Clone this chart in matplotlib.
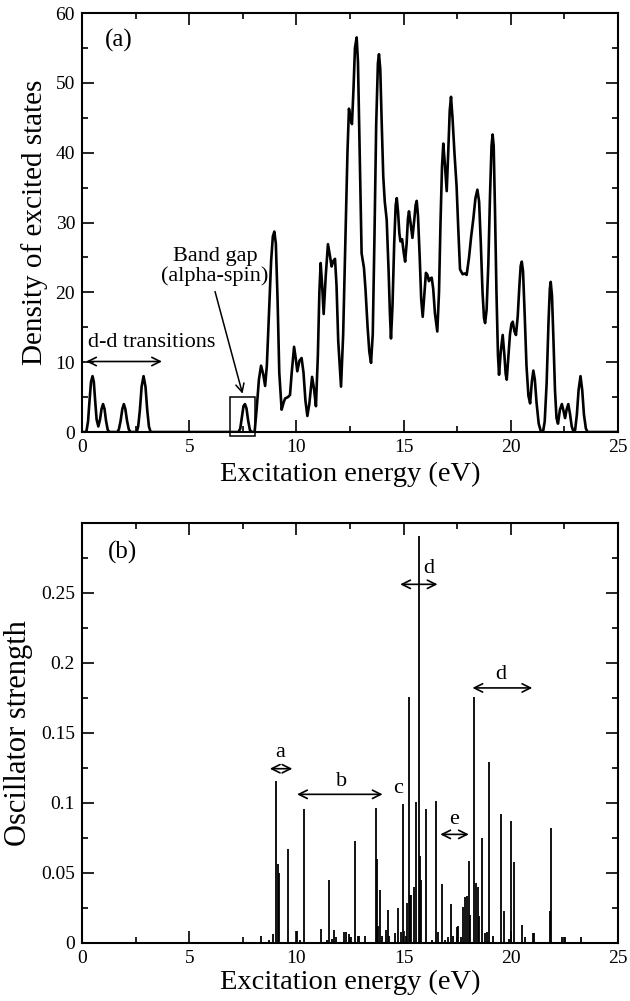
import matplotlib
matplotlib.use("Agg")
import matplotlib.pyplot as plt
from matplotlib.patches import Rectangle
from matplotlib.ticker import MultipleLocator

plt.rcParams['font.family'] = ['Liberation Serif', 'DejaVu Serif']
plt.rcParams['mathtext.fontset'] = 'stix'

# ---------------- data: panel (a) density of excited states -----------------
dos_energy = [0.0, 0.2, 0.28, 0.35, 0.42, 0.49, 0.55, 0.61, 0.68, 0.76, 0.84, 0.91, 0.98, 1.05,
              1.12, 1.20, 1.28, 1.65, 1.72, 1.80, 1.88, 1.95, 2.02, 2.10, 2.18, 2.26, 2.55, 2.62,
              2.70, 2.78, 2.87, 2.96, 3.04, 3.12, 3.20, 7.30, 7.38, 7.46, 7.53, 7.60, 7.67, 7.75,
              7.83, 7.92, 8.05, 8.15, 8.25, 8.35, 8.45, 8.54, 8.62, 8.72, 8.82, 8.90, 8.97, 9.04,
              9.12, 9.20, 9.31, 9.40, 9.47, 9.60, 9.70, 9.78, 9.89, 9.97, 10.04, 10.14, 10.24,
              10.33, 10.42, 10.51, 10.60, 10.73, 10.82, 10.91, 11.00, 11.07, 11.13, 11.20, 11.27,
              11.37, 11.47, 11.56, 11.64, 11.72, 11.80, 11.87, 11.95, 12.08, 12.18, 12.28, 12.38,
              12.45, 12.52, 12.59, 12.66, 12.73, 12.81, 12.87, 12.94, 13.04, 13.15, 13.22, 13.32,
              13.40, 13.48, 13.56, 13.64, 13.72, 13.80, 13.85, 13.91, 13.98, 14.05, 14.12, 14.21,
              14.30, 14.36, 14.41, 14.48, 14.56, 14.63, 14.68, 14.74, 14.80, 14.85, 14.93, 15.00,
              15.07, 15.14, 15.20, 15.25, 15.32, 15.41, 15.50, 15.56, 15.61, 15.67, 15.75, 15.82,
              15.89, 15.96, 16.04, 16.11, 16.18, 16.25, 16.31, 16.38, 16.46, 16.57, 16.65, 16.72,
              16.79, 16.85, 16.92, 17.01, 17.08, 17.15, 17.21, 17.28, 17.37, 17.47, 17.55, 17.63,
              17.75, 17.85, 17.94, 18.05, 18.15, 18.25, 18.35, 18.44, 18.52, 18.60, 18.68, 18.75,
              18.80, 18.87, 18.95, 19.03, 19.10, 19.15, 19.20, 19.26, 19.33, 19.40, 19.45, 19.53,
              19.62, 19.70, 19.76, 19.81, 19.88, 19.96, 20.03, 20.09, 20.17, 20.24, 20.32, 20.40,
              20.46, 20.51, 20.57, 20.65, 20.73, 20.82, 20.90, 20.98, 21.05, 21.12, 21.20, 21.30,
              21.40, 21.50, 21.58, 21.67, 21.76, 21.82, 21.86, 21.92, 21.99, 22.06, 22.13, 22.20,
              22.29, 22.38, 22.46, 22.53, 22.60, 22.68, 22.76, 22.84, 22.92, 23.00, 23.08, 23.16,
              23.25, 23.33, 23.41, 23.50, 23.58, 25.0]
dos_value = [0, 0, 1.5, 4.5, 7.2, 8.0, 7.2, 4.6, 1.8, 0.8, 1.8, 3.3, 4.0, 3.3,
             1.6, 0.3, 0, 0, 0.4, 1.6, 3.3, 4.0, 3.3, 1.6, 0.4, 0, 0, 0.8,
             3.2, 6.5, 8.0, 6.5, 3.2, 0.8, 0, 0, 0.5, 2.2, 3.7, 4.0, 3.4, 1.6,
             0.3, 0, 0, 3.5, 7.5, 9.5, 8.3, 6.6, 9.5, 17, 24.5, 28.0, 28.7, 27,
             19, 8.5, 3.2, 4.2, 4.8, 5.0, 5.3, 8.5, 12.2, 10.5, 8.7, 10.2, 10.6,
             8.5, 4.5, 2.3, 4.0, 7.9, 6.2, 3.7, 11, 20, 24.2, 21, 16.9,
             22.5, 26.9, 25.3, 23.7, 24.5, 24.8, 21, 13, 6.5, 14, 27, 40,
             46.3, 45, 44.1, 49, 55, 56.5, 53, 42, 25.6, 23.5, 20.5, 15,
             11.5, 9.9, 14, 28, 44, 52.8, 54.1, 52, 44, 36.6, 33, 30.4,
             23, 17, 13.4, 18, 27, 32.5, 33.5, 31.5, 28.5, 27.3, 27.6, 25.8,
             24.4, 27, 30.5, 31.6, 30, 27.8, 30.5, 32.5, 33.1, 31, 25, 19,
             16.5, 19.5, 22.8, 22.5, 21.6, 22.0, 22.1, 20.5, 17, 14.4, 20, 30,
             38, 41.3, 38.5, 34.5, 40, 46, 48.0, 45, 40, 35.2, 29, 23.3,
             22.6, 22.7, 22.5, 25, 28, 30.5, 33.5, 34.7, 33, 27, 20, 16.3,
             15.6, 17.5, 24, 34, 41, 42.6, 41, 32, 20, 11, 8.2, 11.5,
             13.9, 11, 8.3, 7.5, 10.5, 14, 15.5, 15.8, 14.4, 13.9, 16.5, 21,
             23.8, 24.4, 23, 16.5, 9.5, 5.2, 4.1, 7.2, 8.8, 7.5, 4.2, 1.2,
             0.1, 0, 1.5, 7, 16, 20.5, 21.5, 19.5, 13, 6, 2, 1.2,
             3.2, 4.0, 3.0, 2.0, 3.2, 4.0, 2.6, 0.8, 0.1, 0.3, 2.5, 6,
             8.0, 6, 2.5, 0.5, 0, 0]

# ---------------- data: panel (b) oscillator strengths -----------------------
stick_energy = [8.35, 8.71, 8.92, 9.05, 9.13, 9.18, 9.63, 10.04, 10.17, 10.34, 11.13, 11.43,
                11.52, 11.66, 11.76, 11.86, 12.22, 12.31, 12.44, 12.55, 12.73, 12.86, 12.93,
                13.20, 13.69, 13.74, 13.79, 13.92, 14.00, 14.20, 14.28, 14.33, 14.61, 14.75,
                14.86, 14.99, 15.12, 15.18, 15.25, 15.31, 15.36, 15.48, 15.57, 15.72, 15.77,
                15.83, 16.05, 16.32, 16.52, 16.60, 16.79, 16.95, 17.05, 17.22, 17.29, 17.48,
                17.53, 17.66, 17.76, 17.85, 17.95, 18.06, 18.11, 18.30, 18.38, 18.45, 18.51,
                18.66, 18.79, 18.88, 18.99, 19.18, 19.54, 19.69, 19.91, 20.00, 20.13, 20.51,
                20.68, 21.03, 21.07, 21.84, 21.88, 22.37, 22.53, 23.26]
stick_strength = [0.0045, 0.002, 0.006, 0.1155, 0.056, 0.050, 0.067, 0.0085, 0.002, 0.0957,
                  0.0095, 0.002, 0.045, 0.003, 0.0088, 0.004, 0.0077, 0.0075, 0.006, 0.004,
                  0.0726, 0.005, 0.005, 0.005, 0.096, 0.060, 0.012, 0.0376, 0.005, 0.009,
                  0.0233, 0.005, 0.007, 0.025, 0.008, 0.0993, 0.005, 0.0286, 0.1757, 0.034,
                  0.034, 0.040, 0.1005, 0.2905, 0.062, 0.045, 0.0957, 0.002, 0.101, 0.008,
                  0.042, 0.002, 0.004, 0.0279, 0.005, 0.0113, 0.012, 0.004, 0.0255, 0.0326,
                  0.0333, 0.0583, 0.020, 0.1757, 0.0429, 0.040, 0.019, 0.075, 0.007, 0.0076,
                  0.129, 0.005, 0.0917, 0.023, 0.003, 0.0869, 0.0576, 0.0124, 0.004, 0.007,
                  0.007, 0.023, 0.0817, 0.004, 0.004, 0.0043]

x_ticks = [0, 5, 10, 15, 20, 25]
top_yticks = [0, 10, 20, 30, 40, 50, 60]
bot_yticks = [0, 0.05, 0.1, 0.15, 0.2, 0.25]
bot_yticklabels = ['0', '0.05', '0.1', '0.15', '0.2', '0.25']

# ---------------- figure ---------------------------------------------------
fig = plt.figure(figsize=(6.30, 10.01), dpi=100)
ax1 = fig.add_axes([0.1302, 0.5684, 0.8508, 0.4186])
ax2 = fig.add_axes([0.1302, 0.0582, 0.8508, 0.4196])

TICK_FS = 14
for ax in (ax1, ax2):
    for sp in ax.spines.values():
        sp.set_linewidth(1.5)
    ax.tick_params(which='both', direction='in', top=True, right=True,
                   labelsize=TICK_FS, width=1.2)
    ax.tick_params(which='major', length=8.5, pad=5)
    ax.tick_params(which='minor', length=4.5)
    ax.set_xlim(0, 25)
    ax.set_xticks(x_ticks)
    ax.xaxis.set_minor_locator(MultipleLocator(2.5))

# panel (a)
ax1.plot(dos_energy, dos_value, color='black', lw=1.9, solid_joinstyle='round')
ax1.set_ylim(0, 60)
ax1.set_yticks(top_yticks)
ax1.yaxis.set_minor_locator(MultipleLocator(5))
ax1.set_xlabel('Excitation energy (eV)', fontsize=20.5, labelpad=4)
ax1.set_ylabel('Density of excited states', fontsize=21)
ax1.yaxis.set_label_coords(-0.064, 0.50)
ax1.text(1.71, 56.1, '(a)', fontsize=18, ha='center', va='center')
ax1.text(3.26, 12.8, 'd-d transitions', fontsize=16, ha='center', va='center')
ax1.annotate('', xy=(0.06, 10.1), xytext=(3.86, 10.1),
             arrowprops=dict(arrowstyle='<->,head_length=0.6,head_width=0.3', lw=1.2, color='black'))
ax1.text(6.21, 23.7, 'Band gap\n(alpha-spin)', fontsize=16, ha='center', va='center',
         linespacing=1.05)
ax1.annotate('', xy=(7.52, 5.1), xytext=(6.17, 20.5),
             arrowprops=dict(arrowstyle='->,head_length=0.6,head_width=0.3', lw=1.1, color='black'))
ax1.add_patch(Rectangle((6.9, -0.6), 1.17, 5.6, fill=False, lw=1.1, ec='black', clip_on=False))

# panel (b)
ax2.vlines(stick_energy, 0, stick_strength, color='black', lw=1.3)
ax2.set_ylim(0, 0.30)
ax2.set_yticks(bot_yticks)
ax2.set_yticklabels(bot_yticklabels)
ax2.yaxis.set_minor_locator(MultipleLocator(0.025))
ax2.set_xlabel('Excitation energy (eV)', fontsize=20.5, labelpad=2)
ax2.set_ylabel('Oscillator strength', fontsize=22)
ax2.yaxis.set_label_coords(-0.092, 0.50)
ax2.text(1.89, 0.2786, '(b)', fontsize=18, ha='center', va='center')

arrow_kw = dict(arrowstyle='<->,head_length=0.6,head_width=0.3', lw=1.2, color='black')
labels_b = [('a', 9.24, 0.1357, 8.63, 9.94, 0.1243),
            ('b', 12.09, 0.115, 9.90, 14.15, 0.106),
            ('d', 16.17, 0.267, 14.71, 16.71, 0.256),
            ('d', 19.54, 0.1917, 18.08, 21.13, 0.182),
            ('e', 17.33, 0.088, 16.58, 18.17, 0.0774)]
for lab, tx, ty, x0, x1, ya in labels_b:
    ax2.text(tx, ty, lab, fontsize=16, ha='center', va='center')
    ax2.annotate('', xy=(x0, ya), xytext=(x1, ya), arrowprops=arrow_kw)
ax2.text(14.75, 0.110, 'c', fontsize=16, ha='center', va='center')

fig.savefig('out.png', dpi=100, facecolor='white')
